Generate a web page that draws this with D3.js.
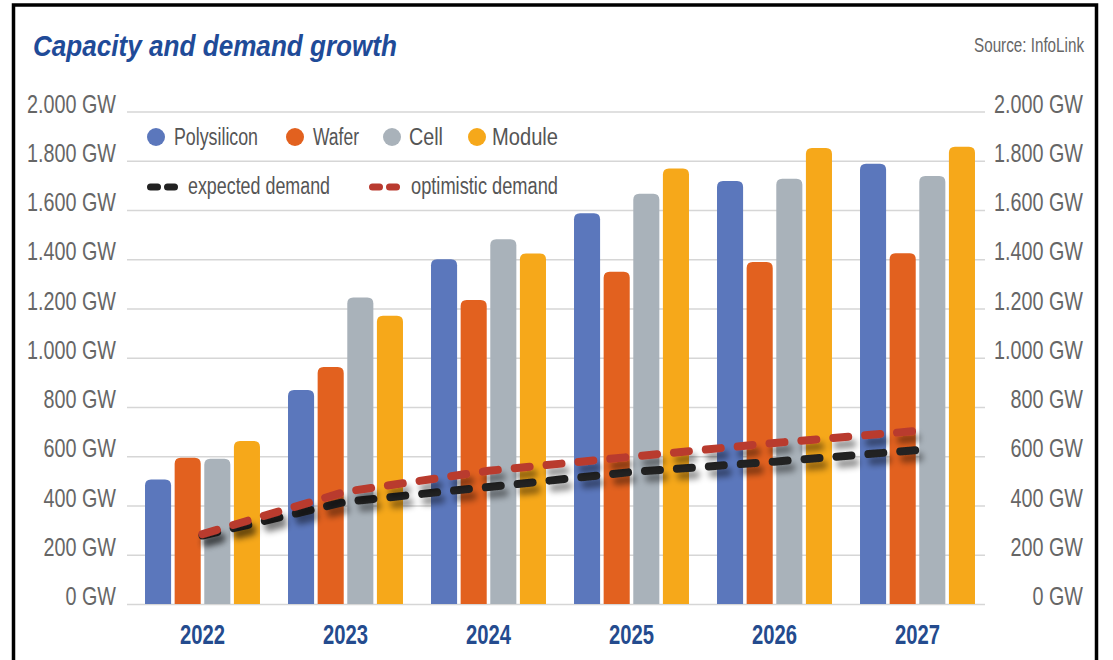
<!DOCTYPE html>
<html lang="en">
<head>
  <meta charset="UTF-8">
  <title>Capacity and demand growth</title>
  <script src="https://d3js.org/d3.v7.min.js"></script>
  <style>
    body { margin: 0; background: #fff; }
    svg { display: block; font-family: "Liberation Sans", Arial, sans-serif; }
  </style>
</head>
<body>
  <svg width="1113" height="660"></svg>

  <script>
    // values
    const years = ["2022", "2023", "2024", "2025", "2026", "2027"];
    const seriesNames = ["Polysilicon", "Wafer", "Cell", "Module"];
    const polysilicon = [506, 869, 1400, 1587, 1718, 1788];
    const wafer = [594, 962, 1235, 1349, 1389, 1424];
    const cell = [590, 1245, 1481, 1666, 1727, 1738];
    const modules = [662, 1171, 1423, 1769, 1852, 1857];
    const expectedDemand = [278, 415, 475, 536, 578, 625];
    const optimisticDemand = [284, 456, 541, 598, 654, 703];
    const yTicks = [0, 200, 400, 600, 800, 1000, 1200, 1400, 1600, 1800, 2000];

    const colors = {
      Polysilicon: "#5b77bc",
      Wafer: "#e2611f",
      Cell: "#a9b2ba",
      Module: "#f6a81a"
    };
    const expectedColor = "#222222";
    const optimisticColor = "#b93a2f";

    const svg = d3.select("svg");

    // no condensed font installed: squeeze the glyphs to the widths of the original
    function fitWidth(sel, w) {
      sel.attr("textLength", w).attr("lengthAdjust", "spacingAndGlyphs");
    }
    function squeeze(sel, k) {
      sel.each(function () {
        const w = this.getComputedTextLength();
        d3.select(this).attr("textLength", w * k).attr("lengthAdjust", "spacingAndGlyphs");
      });
    }

    const gridLeft = 127, gridRight = 985;
    const x = d3.scaleBand().domain(years).range([131, 989]).paddingInner(0.196).paddingOuter(0.098);
    const xInner = d3.scaleBand().domain(seriesNames).range([0, x.bandwidth()]).paddingInner(0.12);
    const y = d3.scaleLinear().domain([0, 2000]).range([604, 111.5]);

    const gwFormat = d3.formatLocale({ decimal: ",", thousands: ".", grouping: [3], currency: ["", ""] }).format(",");
    const tickText = d => `${gwFormat(d)} GW`;

    // frame
    svg.append("rect")
      .attr("x", 13.5).attr("y", 5).attr("width", 1083).attr("height", 700)
      .attr("fill", "none").attr("stroke", "#000").attr("stroke-width", 3.5);

    // title + source
    svg.append("text")
      .attr("x", 33).attr("y", 56)
      .attr("font-size", 30).attr("font-weight", "bold").attr("font-style", "italic")
      .attr("fill", "#1f4b98")
      .text("Capacity and demand growth")
      .call(fitWidth, 364);

    // squeezed with a transform so its box stays inside the frame
    const source = svg.append("text")
      .attr("text-anchor", "end")
      .attr("font-size", 20).attr("fill", "#666")
      .text("Source: InfoLink");
    const sourceScale = 110 / source.node().getComputedTextLength();
    source.attr("transform", `translate(1084,52) scale(${sourceScale},1)`);

    // left axis with gridlines
    const leftAxis = svg.append("g")
      .attr("transform", `translate(${gridLeft},0)`)
      .call(d3.axisLeft(y).tickValues(yTicks).tickFormat(tickText)
        .tickSize(-(gridRight - gridLeft)).tickPadding(11));
    leftAxis.select(".domain").remove();
    leftAxis.selectAll(".tick line").attr("stroke", "#d6d6d6").attr("stroke-width", 1.5);
    leftAxis.selectAll(".tick text")
      .attr("font-size", 25).attr("fill", "#666").attr("dy", "0.02em");

    // right axis labels
    const rightAxis = svg.append("g")
      .attr("transform", "translate(1083,0)")
      .call(d3.axisRight(y).tickValues(yTicks).tickFormat(tickText).tickSize(0).tickPadding(0));
    rightAxis.select(".domain").remove();
    rightAxis.selectAll(".tick text")
      .attr("text-anchor", "end").attr("font-size", 25).attr("fill", "#666").attr("dy", "0.02em");

    // x axis labels
    const bottomAxis = svg.append("g")
      .attr("transform", "translate(0,604)")
      .call(d3.axisBottom(x).tickSize(0).tickPadding(20));
    bottomAxis.select(".domain").remove();
    bottomAxis.selectAll(".tick text")
      .attr("font-size", 28).attr("font-weight", "bold").attr("fill", "#244b8e");

    // d3 axis groups set font-family="sans-serif", reset so the css applies
    svg.selectAll("g").attr("font-family", null);

    leftAxis.selectAll(".tick text").call(squeeze, 0.79);
    rightAxis.selectAll(".tick text").call(squeeze, 0.79);
    bottomAxis.selectAll(".tick text").call(fitWidth, 45);

    // bars
    const barRows = years.map((yr, i) => ({
      year: yr,
      values: [
        { key: "Polysilicon", value: polysilicon[i] },
        { key: "Wafer", value: wafer[i] },
        { key: "Cell", value: cell[i] },
        { key: "Module", value: modules[i] }
      ]
    }));

    function roundTopBar(x0, w, yTop, yBase, r) {
      const rr = Math.min(r, w / 2, yBase - yTop);
      return `M${x0},${yBase}V${yTop + rr}Q${x0},${yTop} ${x0 + rr},${yTop}` +
        `H${x0 + w - rr}Q${x0 + w},${yTop} ${x0 + w},${yTop + rr}V${yBase}Z`;
    }

    svg.append("g")
      .selectAll("g")
      .data(barRows)
      .join("g")
      .attr("transform", d => `translate(${x(d.year)},0)`)
      .selectAll("path")
      .data(d => d.values)
      .join("path")
      .attr("fill", d => colors[d.key])
      .attr("d", d => roundTopBar(xInner(d.key), xInner.bandwidth(), y(d.value), y(0), 6));

    // demand lines with drop shadow
    const defs = svg.append("defs");
    defs.append("filter")
      .attr("id", "shadow")
      .attr("x", "-10%").attr("y", "-50%").attr("width", "120%").attr("height", "200%")
      .append("feDropShadow")
      .attr("dx", 4).attr("dy", 7).attr("stdDeviation", 3)
      .attr("flood-color", "#000").attr("flood-opacity", 0.45);

    const line = d3.line()
      .x((d, i) => x(years[i]) + x.bandwidth() / 2)
      .y(d => y(d));

    [[expectedDemand, expectedColor], [optimisticDemand, optimisticColor]].forEach(([vals, col]) => {
      svg.append("path")
        .datum(vals)
        .attr("fill", "none")
        .attr("stroke", col)
        .attr("stroke-width", 8)
        .attr("stroke-linecap", "round")
        .attr("stroke-dasharray", "15 17")
        .attr("filter", "url(#shadow)")
        .attr("d", line);
    });

    // legend
    const legend = svg.append("g").attr("font-size", 23).attr("fill", "#555");
    const legendItems = [
      { name: "Polysilicon", cx: 156, tx: 174, w: 84 },
      { name: "Wafer", cx: 295, tx: 313, w: 46 },
      { name: "Cell", cx: 392, tx: 409, w: 34 },
      { name: "Module", cx: 477, tx: 492, w: 66 }
    ];
    legendItems.forEach(it => {
      legend.append("circle").attr("cx", it.cx).attr("cy", 137).attr("r", 9).attr("fill", colors[it.name]);
      legend.append("text").attr("x", it.tx).attr("y", 137).attr("dy", "0.35em").text(it.name).call(fitWidth, it.w);
    });

    const dashItems = [
      { name: "expected demand", x0: 147, tx: 188, w: 142, color: expectedColor },
      { name: "optimistic demand", x0: 369, tx: 411, w: 147, color: optimisticColor }
    ];
    dashItems.forEach(it => {
      [0, 17].forEach(off => {
        legend.append("line")
          .attr("x1", it.x0 + 3.5 + off).attr("x2", it.x0 + 10.5 + off)
          .attr("y1", 187).attr("y2", 187)
          .attr("stroke", it.color).attr("stroke-width", 7).attr("stroke-linecap", "round");
      });
      legend.append("text").attr("x", it.tx).attr("y", 186).attr("dy", "0.35em").text(it.name).call(fitWidth, it.w);
    });
  </script>
</body>
</html>
